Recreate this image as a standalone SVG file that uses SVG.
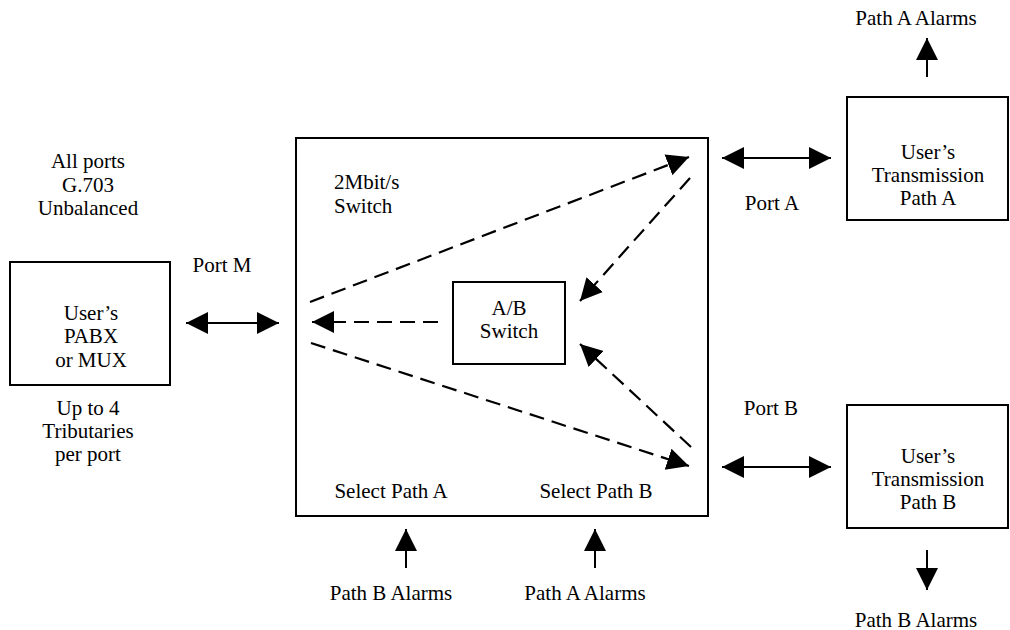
<svg xmlns="http://www.w3.org/2000/svg" width="1010" height="630" viewBox="0 0 1010 630">
<style>
text{font-family:"Liberation Serif","Times New Roman",serif;font-size:21px;fill:#000}
.m{text-anchor:middle}
.box{fill:#fff;stroke:#000;stroke-width:2}
.sol{stroke:#000;stroke-width:2;fill:none}
.dash{stroke:#000;stroke-width:2.2;fill:none;stroke-dasharray:15 8}
</style>
<defs>
<marker id="ah" markerUnits="userSpaceOnUse" markerWidth="24" markerHeight="24" refX="22" refY="12" orient="auto-start-reverse" viewBox="0 0 24 24">
<path d="M0,1 L22,12 L0,23 Z" fill="#000"/>
</marker>
</defs>
<rect width="1010" height="630" fill="#fff"/>
<g id="main">
<rect class="box" x="296" y="138" width="412" height="378"/>
<text x="334" y="189">2Mbit/s</text>
<text x="334" y="213">Switch</text>
<text class="m" x="391" y="498">Select Path A</text>
<text class="m" x="596" y="498">Select Path B</text>
</g>
<g id="abswitch">
<rect class="box" x="453" y="282" width="112" height="82"/>
<text class="m" x="509" y="315">A/B</text>
<text class="m" x="509" y="338">Switch</text>
</g>
<g id="pabx">
<rect class="box" x="10" y="262" width="160" height="123"/>
<text class="m" x="91" y="320">User’s</text>
<text class="m" x="91" y="343">PABX</text>
<text class="m" x="91" y="367">or MUX</text>
</g>
<g id="pathA">
<rect class="box" x="847" y="97" width="161" height="123"/>
<text class="m" x="928" y="159">User’s</text>
<text class="m" x="928" y="182">Transmission</text>
<text class="m" x="928" y="205">Path A</text>
</g>
<g id="pathB">
<rect class="box" x="847" y="405" width="161" height="123"/>
<text class="m" x="928" y="463">User’s</text>
<text class="m" x="928" y="486">Transmission</text>
<text class="m" x="928" y="509">Path B</text>
</g>
<g id="labels">
<text class="m" x="88" y="168">All ports</text>
<text class="m" x="88" y="192">G.703</text>
<text class="m" x="88" y="215">Unbalanced</text>
<text class="m" x="88" y="415">Up to 4</text>
<text class="m" x="88" y="438">Tributaries</text>
<text class="m" x="88" y="461">per port</text>
<text class="m" x="222" y="272">Port M</text>
<text class="m" x="772" y="210">Port A</text>
<text class="m" x="771" y="415">Port B</text>
<text class="m" x="916" y="25">Path A Alarms</text>
<text class="m" x="916" y="627">Path B Alarms</text>
<text class="m" x="391" y="600">Path B Alarms</text>
<text class="m" x="585" y="600">Path A Alarms</text>
</g>
<g id="connectors">
<line class="sol" x1="186" y1="323" x2="279" y2="323" marker-start="url(#ah)" marker-end="url(#ah)"/>
<line class="sol" x1="722" y1="158" x2="831" y2="158" marker-start="url(#ah)" marker-end="url(#ah)"/>
<line class="sol" x1="722" y1="467" x2="831" y2="467" marker-start="url(#ah)" marker-end="url(#ah)"/>
<line class="sol" x1="927" y1="77" x2="927" y2="38" marker-end="url(#ah)"/>
<line class="sol" x1="927" y1="550" x2="927" y2="590" marker-end="url(#ah)"/>
<line class="sol" x1="406" y1="568" x2="406" y2="529" marker-end="url(#ah)"/>
<line class="sol" x1="595" y1="568" x2="595" y2="529" marker-end="url(#ah)"/>
<line class="dash" x1="310" y1="302" x2="689" y2="157" marker-end="url(#ah)"/>
<line class="dash" x1="690" y1="178" x2="580" y2="301" marker-end="url(#ah)"/>
<line class="dash" x1="691" y1="447" x2="580" y2="344" marker-end="url(#ah)"/>
<line class="dash" x1="311" y1="343" x2="689" y2="466" marker-end="url(#ah)"/>
<line class="dash" x1="438" y1="322" x2="312" y2="322" marker-end="url(#ah)"/>
</g>
</svg>
